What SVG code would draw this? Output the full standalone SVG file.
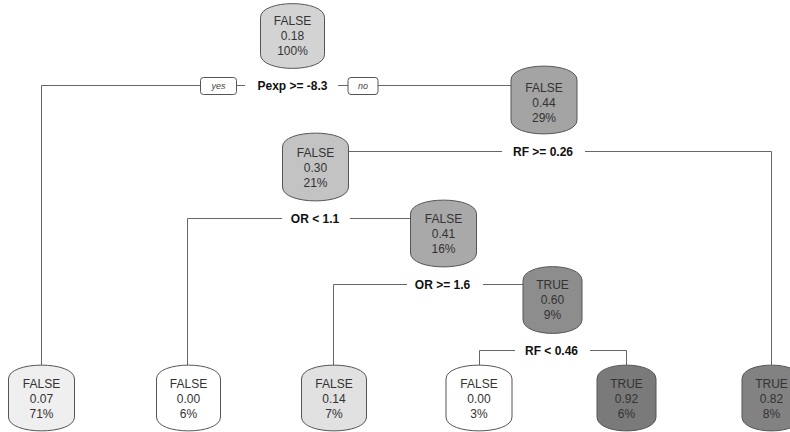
<svg xmlns="http://www.w3.org/2000/svg" width="790" height="432" viewBox="0 0 790 432">
<style>
.nb{stroke:#555;stroke-width:1}
.nt{font-family:"Liberation Sans",Arial,sans-serif;font-size:12px;fill:#333;text-anchor:middle}
.sl{font-family:"Liberation Sans",Arial,sans-serif;font-size:12px;font-weight:bold;fill:#111;text-anchor:middle}
.yn{font-family:"Liberation Sans",Arial,sans-serif;font-size:9px;font-style:italic;fill:#444;text-anchor:middle}
.c{fill:none;stroke:#666;stroke-width:1}
</style>
<rect width="790" height="432" fill="#fff"/>
<g id="connectors">
<path class="c" d="M41.5,365 V85.5 H200.5 M236.5,85.5 H245 M338,85.5 H348 M378,85.5 H511"/>
<path class="c" d="M348,151.5 H502 M585,151.5 H771.5 V365"/>
<path class="c" d="M187.5,365 V218.5 H282 M350,218.5 H411"/>
<path class="c" d="M333.5,365 V284.5 H407 M483,284.5 H523"/>
<path class="c" d="M479.5,365 V350.5 H515 M590,350.5 H626.5 V365"/>
<rect x="200.5" y="77.5" width="36" height="17" rx="3" fill="#fff" stroke="#555"/>
<text class="yn" x="218.5" y="89">yes</text>
<rect x="348" y="77.5" width="30" height="17" rx="3" fill="#fff" stroke="#555"/>
<text class="yn" x="363" y="89">no</text>
<text class="sl" x="292.5" y="90">Pexp &gt;= -8.3</text>
<text class="sl" x="543" y="156">RF &gt;= 0.26</text>
<text class="sl" x="315" y="223">OR &lt; 1.1</text>
<text class="sl" x="442.5" y="289">OR &gt;= 1.6</text>
<text class="sl" x="551.5" y="355">RF &lt; 0.46</text>
</g>
<g id="n1"><path class="nb" fill="#d3d3d3" d="M260.5,17.5 C260.5,-1 324.5,-1 324.5,17.5 V54.5 C324.5,73 260.5,73 260.5,54.5 Z"/>
<text class="nt" x="292.5" y="25">FALSE</text><text class="nt" x="292.5" y="40">0.18</text><text class="nt" x="292.5" y="55">100%</text></g>
<g id="n2"><path class="nb" fill="#a4a4a4" d="M511,80 C511,61.5 577,61.5 577,80 V120 C577,138.5 511,138.5 511,120 Z"/>
<text class="nt" x="544" y="92">FALSE</text><text class="nt" x="544" y="107">0.44</text><text class="nt" x="544" y="122">29%</text></g>
<g id="n3"><path class="nb" fill="#c3c3c3" d="M282.5,147 C282.5,128.5 348.5,128.5 348.5,147 V187 C348.5,205.5 282.5,205.5 282.5,187 Z"/>
<text class="nt" x="315.5" y="157">FALSE</text><text class="nt" x="315.5" y="172">0.30</text><text class="nt" x="315.5" y="187">21%</text></g>
<g id="n4"><path class="nb" fill="#a9a9a9" d="M410.5,214 C410.5,195.5 476.5,195.5 476.5,214 V253 C476.5,271.5 410.5,271.5 410.5,253 Z"/>
<text class="nt" x="443.5" y="223">FALSE</text><text class="nt" x="443.5" y="238">0.41</text><text class="nt" x="443.5" y="253">16%</text></g>
<g id="n5"><path class="nb" fill="#8d8d8d" d="M523,280.5 C523,262 582,262 582,280.5 V319.5 C582,338 523,338 523,319.5 Z"/>
<text class="nt" x="552.5" y="289">TRUE</text><text class="nt" x="552.5" y="304">0.60</text><text class="nt" x="552.5" y="319">9%</text></g>
<g id="l1"><path class="nb" fill="#efefef" d="M8.5,379 C8.5,360.5 74.5,360.5 74.5,379 V417 C74.5,435.5 8.5,435.5 8.5,417 Z"/>
<text class="nt" x="41.5" y="388">FALSE</text><text class="nt" x="41.5" y="403">0.07</text><text class="nt" x="41.5" y="418">71%</text></g>
<g id="l2"><path class="nb" fill="#ffffff" d="M156.5,379 C156.5,360.5 220.5,360.5 220.5,379 V417 C220.5,435.5 156.5,435.5 156.5,417 Z"/>
<text class="nt" x="188.5" y="388">FALSE</text><text class="nt" x="188.5" y="403">0.00</text><text class="nt" x="188.5" y="418">6%</text></g>
<g id="l3"><path class="nb" fill="#e1e1e1" d="M301.5,379 C301.5,360.5 366.5,360.5 366.5,379 V417 C366.5,435.5 301.5,435.5 301.5,417 Z"/>
<text class="nt" x="334" y="388">FALSE</text><text class="nt" x="334" y="403">0.14</text><text class="nt" x="334" y="418">7%</text></g>
<g id="l4"><path class="nb" fill="#ffffff" d="M446,379 C446,360.5 512,360.5 512,379 V417 C512,435.5 446,435.5 446,417 Z"/>
<text class="nt" x="479" y="388">FALSE</text><text class="nt" x="479" y="403">0.00</text><text class="nt" x="479" y="418">3%</text></g>
<g id="l5"><path class="nb" fill="#7a7a7a" d="M597,379 C597,360.5 656,360.5 656,379 V417 C656,435.5 597,435.5 597,417 Z"/>
<text class="nt" x="626.5" y="388">TRUE</text><text class="nt" x="626.5" y="403">0.92</text><text class="nt" x="626.5" y="418">6%</text></g>
<g id="l6"><path class="nb" fill="#828282" d="M742,379 C742,360.5 801,360.5 801,379 V417 C801,435.5 742,435.5 742,417 Z"/>
<text class="nt" x="771.5" y="388">TRUE</text><text class="nt" x="771.5" y="403">0.82</text><text class="nt" x="771.5" y="418">8%</text></g>
</svg>
